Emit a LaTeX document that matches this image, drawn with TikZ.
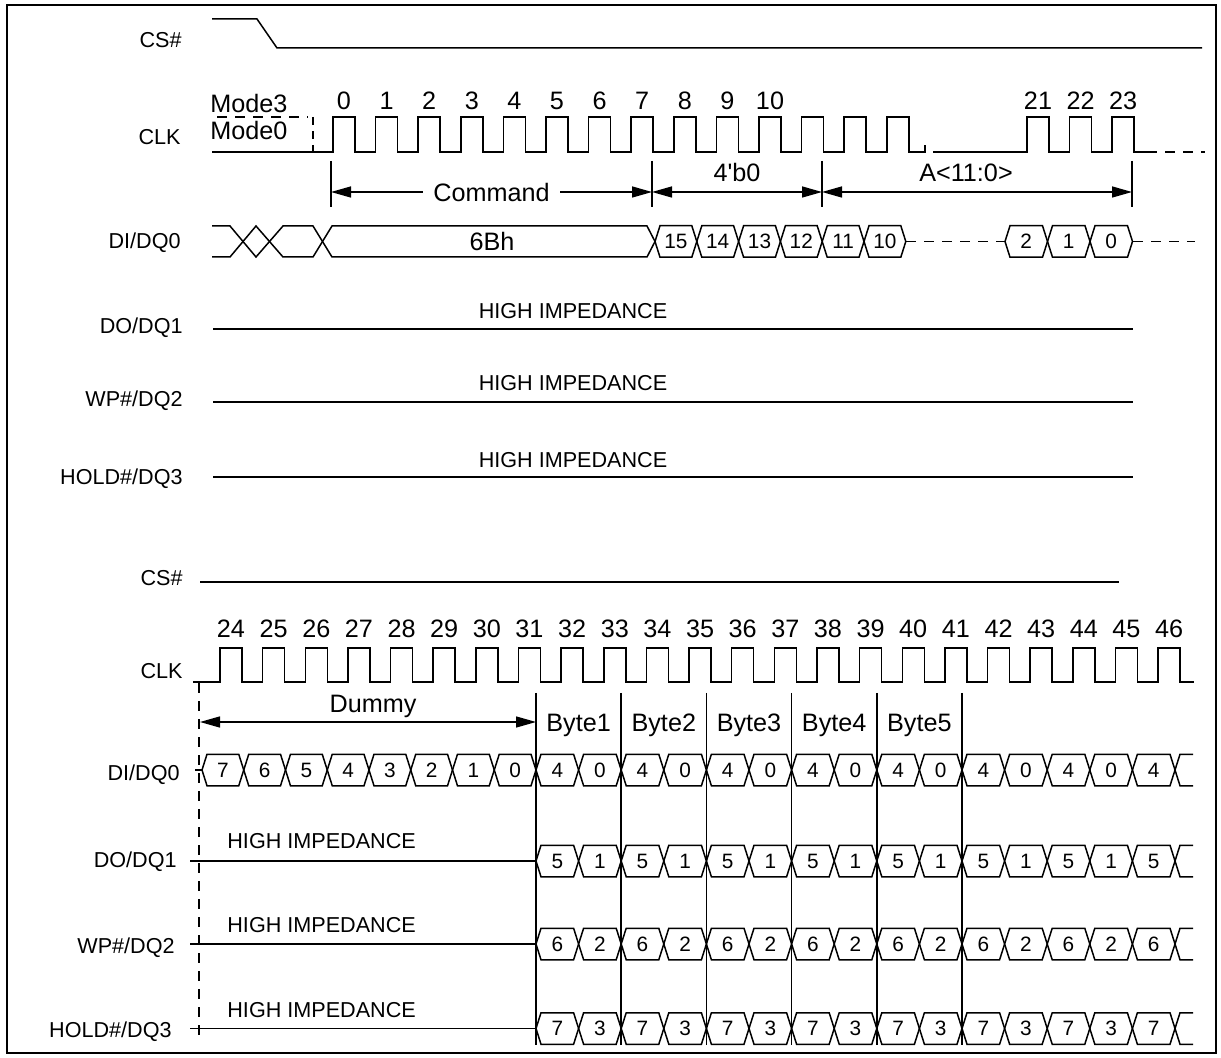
\documentclass[tikz,border=0pt]{standalone}
\usepackage{fontspec}
\setmainfont{Liberation Sans}
\usetikzlibrary{arrows.meta}

% one data cell of a bus: name, left x, right x, centre y, text
\newcommand{\tdcell}[5]{%
  \draw[wave] (#2,#4) -- (#2+5,#4-15.75) -- (#3-5,#4-15.75) -- (#3,#4)
    -- (#3-5,#4+15.75) -- (#2+5,#4+15.75) -- cycle;
  \node[cellnum] (#1) at ({(#2+#3)/2},#4) {#5};
}
% open end of a bus at x, y
\newcommand{\tdopen}[2]{%
  \draw[wave] (#1+18,#2-15.75) -- (#1+5,#2-15.75) -- (#1,#2)
    -- (#1+5,#2+15.75) -- (#1+18,#2+15.75);
}

\begin{document}
\begin{tikzpicture}[
        x=0.5pt, y=-0.5pt,
        every node/.style={
            inner sep=0pt,
            font=\fontsize{10.8}{13}\selectfont
        },
        signame/.style={
            anchor=base east
        },
        bignum/.style={
            font=\fontsize{12.6}{15}\selectfont
        },
        cellnum/.style={
            font=\fontsize{10.4}{12}\selectfont
        },
        wave/.style={
            line width=0.75pt
        },
        dashwave/.style={
            wave,
            dash pattern=on 5pt off 4pt
        },
        tick/.style={
            line width=0.75pt
        },
        dim/.style={
            <->,
            >={Triangle[length=10pt,width=5.5pt]},
            line width=0.75pt
        }
    ]
    \useasboundingbox (0,0) rectangle (1221,1058);
    \draw[line width=0.8pt] (7,5) rectangle (1216,1053);

    % 第一部分 - 命令和地址
    \node[signame] (cs1) at (182,48) {CS\#};
    \node[signame] (clk1) at (181,145) {CLK};
    \node[signame] (di1) at (181,249) {DI/DQ0};
    \node[signame] (do1) at (183,334) {DO/DQ1};
    \node[signame] (wp1) at (183,407) {WP\#/DQ2};
    \node[signame] (hold1) at (183,485) {HOLD\#/DQ3};

    \draw[wave] (212,19) -- (257,19) -- (277,48) -- (1202,48);

    % 时钟
    \node[bignum, anchor=base west] (mode3) at (210,113) {Mode3};
    \node[bignum, anchor=base west] (mode0) at (210,140) {Mode0};
    \draw[dashwave] (217,117) -- (308,117);
    \draw[wave, dash pattern=on 4pt off 3pt] (313,117) -- (313,152);
    \draw[wave] (212,152) -- (333,152)
        \foreach \k in {0,...,12}{ -- ++(0,-35) -- ++(22,0) -- ++(0,35) -- ++(20.6,0) }
        -- ++(0,-35) -- ++(22,0) -- ++(0,35) -- (925,152) -- (925,145);
    \draw[wave] (933,152) -- (1027,152)
        \foreach \k in {1,2}{ -- ++(0,-35) -- ++(22,0) -- ++(0,35) -- ++(20.6,0) }
        -- ++(0,-35) -- ++(22,0) -- ++(0,35) -- (1147,152);
    \draw[dashwave] (1147,152) -- (1205,152);
    \foreach \n in {0,...,10}
        \node[bignum, anchor=base] (ck\n) at (344+42.6*\n,110) {\n};
    \foreach \n [count=\i from 0] in {21,22,23}
        \node[bignum, anchor=base] (ck\n) at (1038+42.6*\i,110) {\n};

    % 命令 / 地址 标注
    \coordinate (t0) at (331,192);
    \coordinate (t7) at (652,192);
    \coordinate (t10) at (822,192);
    \coordinate (t23) at (1132,192);
    \foreach \c in {t0,t7,t10,t23}
        \draw[tick] (\c) ++(0,-31) -- ++(0,46);
    \draw[dim] (t0) -- (t7) node[midway, fill=white, inner xsep=5pt, bignum] (cmd) {Command};
    \draw[dim] (t7) -- (t10);
    \draw[dim] (t10) -- (t23);
    \node[bignum, anchor=base] (pad) at (737,182) {4\textquotesingle b0};
    \node[bignum, anchor=base] (addr) at (966,182) {A<11:0>};

    % DI/DQ0 数据
    \draw[wave] (212,226) -- (230,226) -- (256,257) -- (283,226) -- (313,226)
        -- (332,257) -- (647,257) -- (655,241.5);
    \draw[wave] (212,257) -- (230,257) -- (256,226) -- (283,257) -- (313,257)
        -- (332,226) -- (647,226) -- (655,241.5);
    \node[bignum] (opcode) at (492,241.5) {6Bh};
    \foreach \v [count=\i from 0] in {15,14,13,12,11,10}{
        \pgfmathsetmacro\xa{655+41.8*\i}
        \pgfmathsetmacro\xb{\xa+41.8}
        \tdcell{a\v}{\xa}{\xb}{241.5}{\v}
    }
    \draw[dashwave] (906,241.5) -- (1005,241.5);
    \foreach \v [count=\i from 0] in {2,1,0}{
        \pgfmathsetmacro\xa{1005+42.5*\i}
        \pgfmathsetmacro\xb{\xa+42.5}
        \tdcell{a\v}{\xa}{\xb}{241.5}{\v}
    }
    \draw[dashwave] (1133,241.5) -- (1195,241.5);

    % 高阻
    \foreach \y/\b in {329/319, 402/391, 477/468}{
        \draw[wave] (213,\y) -- (1133,\y);
        \node[anchor=base] (hz\y) at (573,\b) {HIGH IMPEDANCE};
    }

    % 第二部分 - 哑周期和数据输出
    \node[signame] (cs2) at (183,586) {CS\#};
    \node[signame] (clk2) at (183,678) {CLK};
    \node[signame] (di2) at (180,780) {DI/DQ0};
    \node[signame] (do2) at (177,867) {DO/DQ1};
    \node[signame] (wp2) at (175,953) {WP\#/DQ2};
    \node[signame] (hold2) at (172,1037) {HOLD\#/DQ3};

    \draw[wave] (200,582) -- (1119,582);

    \draw[wave] (193,682) -- (220,682)
        \foreach \k in {24,...,45}{ -- ++(0,-34) -- ++(22,0) -- ++(0,34) -- ++(20.64,0) }
        -- ++(0,-34) -- ++(22,0) -- ++(0,34) -- (1194,682);
    \foreach \n in {24,...,46}
        \node[bignum, anchor=base] (cb\n) at ({231+42.64*(\n-24)},638) {\n};

    \draw[wave, dash pattern=on 5pt off 4pt] (199,683) -- (199,1040);

    % 哑周期
    \coordinate (dl) at (200,722);
    \coordinate (dr) at (536,722);
    \draw[dim] (dl) -- (dr);
    \node[bignum, anchor=base] (dummy) at (373,712) {Dummy};

    \draw[wave] (195,770) -- (202,770);
    \foreach \v [count=\i from 0] in {7,6,5,4,3,2,1,0}{
        \pgfmathsetmacro\xa{202+41.75*\i}
        \pgfmathsetmacro\xb{\xa+41.75}
        \tdcell{dm\i}{\xa}{\xb}{770}{\v}
    }

    % 字节边界
    \foreach \i in {0,...,5}
        \draw[tick] ({536+85.2*\i},693) -- ({536+85.2*\i},1045);
    \foreach \i in {1,...,5}
        \node[bignum, anchor=base] (byte\i) at ({536+85.2*\i-42.6},731) {Byte\i};

    % 四线数据
    \foreach \row/\y/\hi/\lo in {q0/770/4/0, q1/861/5/1, q2/944/6/2, q3/1028.5/7/3}{
        \foreach \j in {0,...,14}{
            \pgfmathsetmacro\xa{536+42.6*\j}
            \pgfmathsetmacro\xb{\xa+42.6}
            \pgfmathtruncatemacro\v{ifthenelse(mod(\j,2)==0,\hi,\lo)}
            \tdcell{\row d\j}{\xa}{\xb}{\y}{\v}
        }
        \tdopen{1175}{\y}
    }

    % 高阻
    \foreach \y/\b in {861/848, 944/932, 1028.5/1017}{
        \draw[wave] (190,\y) -- (536,\y);
        \node[anchor=base west] (hzb\b) at (227,\b) {HIGH IMPEDANCE};
    }

\end{tikzpicture}
\end{document}
